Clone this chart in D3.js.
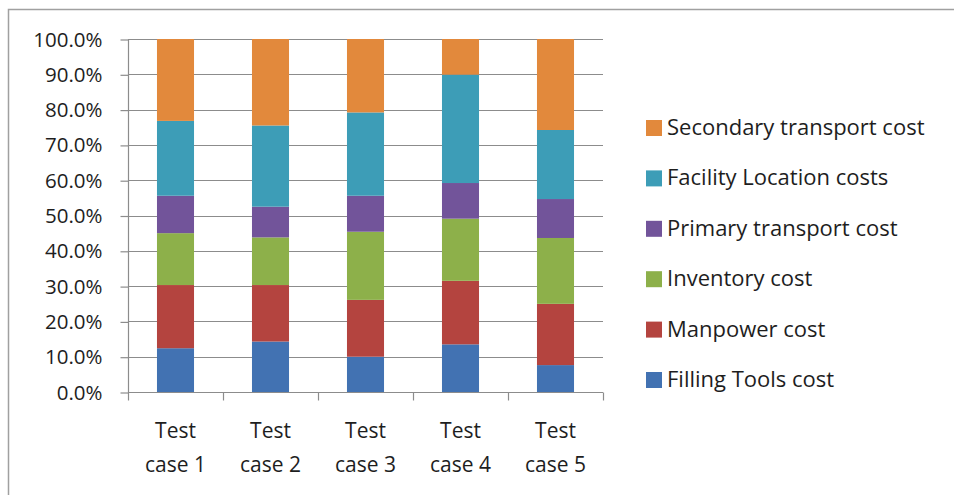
<!DOCTYPE html>
<html>
<head>
<meta charset="utf-8">
<script src="https://cdn.jsdelivr.net/npm/d3@7"></script>
<style>
  body { margin: 0; background: #fff; }
  svg text { font-family: "Open Sans", sans-serif; fill: #1e1e1e; }
</style>
</head>
<body>
<svg id="chart" width="954" height="495"></svg>
<script>
// categories and series (percent of total, bottom to top)
var cases = ["Test case 1", "Test case 2", "Test case 3", "Test case 4", "Test case 5"];
var seriesNames = ["Filling Tools cost", "Manpower cost", "Inventory cost",
                   "Primary transport cost", "Facility Location costs", "Secondary transport cost"];
var fillingTools  = [12.4, 14.3, 10.0, 13.5, 7.6];
var manpower      = [17.9, 16.0, 16.1, 18.0, 17.3];
var inventory     = [14.7, 13.5, 19.3, 17.6, 18.6];
var primaryTrans  = [10.6, 8.7, 10.2, 10.1, 11.0];
var facilityLoc   = [21.2, 23.0, 23.6, 30.7, 19.5];
var secondaryTr   = [23.2, 24.5, 20.8, 10.1, 25.7];
var yTicks = [0, 10, 20, 30, 40, 50, 60, 70, 80, 90, 100];
var colors = ["#4272b2", "#b4443f", "#8db04a", "#72549a", "#3d9db7", "#e2893c"];

(function () {
    var svg = d3.select("#chart");

    // frame of the chart area (right and bottom run off the picture)
    svg.append("rect")
        .attr("x", 8.5).attr("y", 9.5)
        .attr("width", 960).attr("height", 500)
        .attr("fill", "none")
        .attr("stroke", "#a0a0a0")
        .attr("stroke-width", 1.5);

    var pLeft = 128, pRight = 603, pTop = 39, pBottom = 392;

    var x = d3.scaleBand().domain(cases).range([pLeft, pRight]).paddingInner(0.61).paddingOuter(0.305);
    var y = d3.scaleLinear().domain([0, 100]).range([pBottom, pTop]);

    // build rows for the stack
    var all = [fillingTools, manpower, inventory, primaryTrans, facilityLoc, secondaryTr];
    var rows = cases.map(function (c, i) {
        var r = { name: c };
        seriesNames.forEach(function (s, k) { r[s] = all[k][i]; });
        return r;
    });
    var stacked = d3.stack().keys(seriesNames).offset(d3.stackOffsetExpand)(rows);

    // grid lines
    svg.append("g")
        .selectAll("line")
        .data(yTicks.slice(1))
        .join("line")
        .attr("x1", pLeft).attr("x2", pRight)
        .attr("y1", function (d) { return Math.round(y(d)) + 0.5; })
        .attr("y2", function (d) { return Math.round(y(d)) + 0.5; })
        .attr("stroke", "#8c8c8c")
        .attr("stroke-width", 1.2);

    // y axis
    var yAxis = svg.append("g")
        .attr("transform", "translate(" + (pLeft + 0.5) + ",0.5)")
        .call(d3.axisLeft(y).tickValues(yTicks).tickSize(8).tickPadding(18)
            .tickFormat(function (d) { return d.toFixed(1) + "%"; }));
    yAxis.select(".domain").remove();
    yAxis.append("line").attr("y1", pTop).attr("y2", pBottom);
    yAxis.selectAll("text").style("font-size", "20.5px").attr("fill", "#1e1e1e")
        .style("font-family", "'Open Sans', sans-serif");
    yAxis.selectAll("line").attr("stroke", "#8c8c8c").attr("stroke-width", 1.2);

    // x axis with ticks between categories
    var xAxisG = svg.append("g").attr("transform", "translate(0," + (pBottom + 0.5) + ")");
    xAxisG.append("line")
        .attr("x1", pLeft).attr("x2", pRight)
        .attr("stroke", "#8c8c8c").attr("stroke-width", 1.2);
    var step = x.step();
    xAxisG.selectAll(".tk")
        .data(d3.range(cases.length + 1))
        .join("line")
        .attr("class", "tk")
        .attr("x1", function (d) { return Math.round(pLeft + d * step) + 0.5; })
        .attr("x2", function (d) { return Math.round(pLeft + d * step) + 0.5; })
        .attr("y1", 0).attr("y2", 8)
        .attr("stroke", "#8c8c8c").attr("stroke-width", 1.2);

    var cx = function (d) { return x(d) + x.bandwidth() / 2; };
    var xl = xAxisG.selectAll(".lbl")
        .data(cases)
        .join("text")
        .attr("class", "lbl")
        .attr("text-anchor", "middle")
        .style("font-size", "21px");
    xl.append("tspan").attr("x", cx).attr("y", 45).text("Test");
    xl.append("tspan").attr("x", cx).attr("y", 79)
        .text(function (d) { return d.replace("Test ", ""); });

    // bars
    svg.append("g")
        .selectAll("g")
        .data(stacked)
        .join("g")
        .attr("fill", function (d, i) { return colors[i]; })
        .selectAll("rect")
        .data(function (d) { return d; })
        .join("rect")
        .attr("x", function (d) { return x(d.data.name); })
        .attr("width", x.bandwidth())
        .attr("y", function (d) { return y(d[1] * 100); })
        .attr("height", function (d) { return y(d[0] * 100) - y(d[1] * 100); });

    // legend, top entry is the last series
    var legend = svg.append("g").attr("transform", "translate(646,0)");
    var legendItems = seriesNames.slice().reverse();
    var lg = legend.selectAll("g")
        .data(legendItems)
        .join("g")
        .attr("transform", function (d, i) { return "translate(0," + (127 + i * 50.4) + ")"; });
    lg.append("rect")
        .attr("x", 0).attr("y", -7)
        .attr("width", 16).attr("height", 16)
        .attr("fill", function (d) { return colors[seriesNames.indexOf(d)]; });
    lg.append("text")
        .attr("x", 21).attr("y", 8)
        .style("font-size", "22px")
        .text(function (d) { return d; });
})();
</script>
</body>
</html>
